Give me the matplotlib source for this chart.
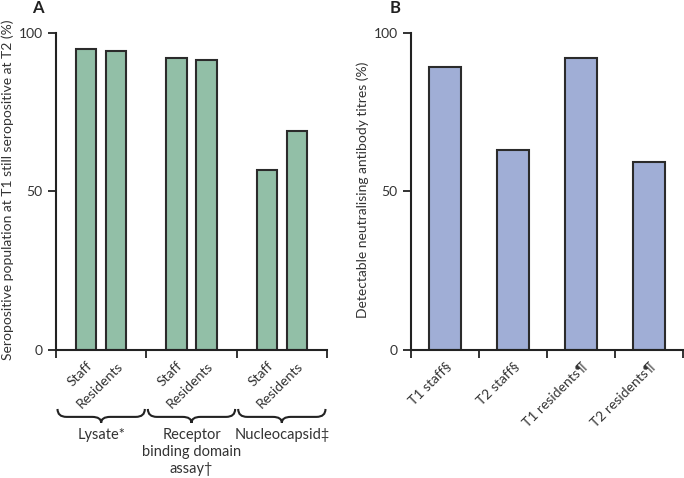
import matplotlib
matplotlib.use("Agg")
import matplotlib.pyplot as plt
from matplotlib.path import Path
from matplotlib.patches import PathPatch
import matplotlib.transforms as mtransforms

plt.rcParams['font.family'] = ['Lato', 'DejaVu Sans']
plt.rcParams['font.size'] = 10

# panel A data
a_labels = ['Staff', 'Residents'] * 3
a_values = [95.0, 94.4, 92.2, 91.5, 56.8, 69.1]
a_groups = ['Lysate*', 'Receptor\nbinding domain\nassay\u2020', 'Nucleocapsid\u2021']

# panel B data
b_labels = ['T1 staff\u00a7', 'T2 staff\u00a7', 'T1 residents\u00b6', 'T2 residents\u00b6']
b_values = [89.4, 63.2, 92.0, 59.3]

green = '#92bfa7'
blue = '#a0aed6'
edge = '#2b2b2b'

fig = plt.figure(figsize=(6.84, 4.78), dpi=100)
ax_a = fig.add_axes([56 / 684, 128 / 478, 271 / 684, 317 / 478])
ax_b = fig.add_axes([411 / 684, 128 / 478, 272 / 684, 317 / 478])


def style(ax):
    for s in ['top', 'right']:
        ax.spines[s].set_visible(False)
    for s in ['left', 'bottom']:
        ax.spines[s].set_linewidth(1.5)
        ax.spines[s].set_color('#222222')
    ax.set_ylim(0, 100)
    ax.set_yticks([0, 50, 100])
    ax.tick_params(axis='both', which='major', direction='out', length=6,
                   width=1.3, color='#222222', labelsize=10, labelcolor='#333333')
    ax.tick_params(axis='x', which='major', labelbottom=False)
    ax.tick_params(axis='x', which='minor', length=0, labelsize=10,
                   labelcolor='#333333', pad=7)


# ---- panel A
a_pos = [1, 2, 4, 5, 7, 8]
ax_a.bar(a_pos, a_values, width=0.67, color=green, edgecolor=edge, linewidth=1.5)
ax_a.set_xlim(0, 9)
style(ax_a)
ax_a.set_xticks([0, 3, 6, 9])
ax_a.set_xticks(a_pos, minor=True)
ax_a.set_xticklabels(a_labels, minor=True, rotation=45, ha='right',
                     rotation_mode='anchor')

trans = mtransforms.blended_transform_factory(ax_a.transData, ax_a.transAxes)
y_top, y_mid, y_tip = -0.186, -0.211, -0.230
for i, name in enumerate(a_groups):
    x0 = 3 * i + 0.05
    x1 = 3 * i + 2.95
    xm = 3 * i + 1.5
    r = 0.3
    verts = [(x0, y_top), (x0, y_mid), (x0 + r, y_mid),
             (xm - r, y_mid), (xm, y_mid), (xm, y_tip),
             (xm, y_mid), (xm + r, y_mid),
             (x1 - r, y_mid), (x1, y_mid), (x1, y_top)]
    codes = [Path.MOVETO, Path.CURVE3, Path.CURVE3,
             Path.LINETO, Path.CURVE3, Path.CURVE3,
             Path.CURVE3, Path.CURVE3,
             Path.LINETO, Path.CURVE3, Path.CURVE3]
    ax_a.add_patch(PathPatch(Path(verts, codes), transform=trans, fill=False,
                             lw=1.5, edgecolor='#222222', clip_on=False))
    ax_a.text(xm, -0.245, name, transform=trans, ha='center', va='top',
              fontsize=10.5, color='#333333', linespacing=1.3)

# ---- panel B
b_pos = [0.5, 1.5, 2.5, 3.5]
ax_b.bar(b_pos, b_values, width=0.47, color=blue, edgecolor=edge, linewidth=1.5)
ax_b.set_xlim(0, 4)
style(ax_b)
ax_b.set_xticks([0, 1, 2, 3, 4])
ax_b.set_xticks(b_pos, minor=True)
ax_b.set_xticklabels(b_labels, minor=True, rotation=45, ha='right',
                     rotation_mode='anchor')

fig.text(8 / 684, 1 - 190 / 478,
         'Seropositive population at T1 still seropositive at T2 (%)',
         rotation=90, ha='center', va='center', fontsize=10, color='#333333')
fig.text(363 / 684, 1 - 190 / 478, 'Detectable neutralising antibody titres (%)',
         rotation=90, ha='center', va='center', fontsize=10, color='#333333')
fig.text(38 / 684, 1 - 8 / 478, 'A', ha='center', va='center',
         fontsize=12, fontweight='bold', color='#222222')
fig.text(395 / 684, 1 - 8 / 478, 'B', ha='center', va='center',
         fontsize=12, fontweight='bold', color='#222222')

fig.savefig('out.png', dpi=100)
